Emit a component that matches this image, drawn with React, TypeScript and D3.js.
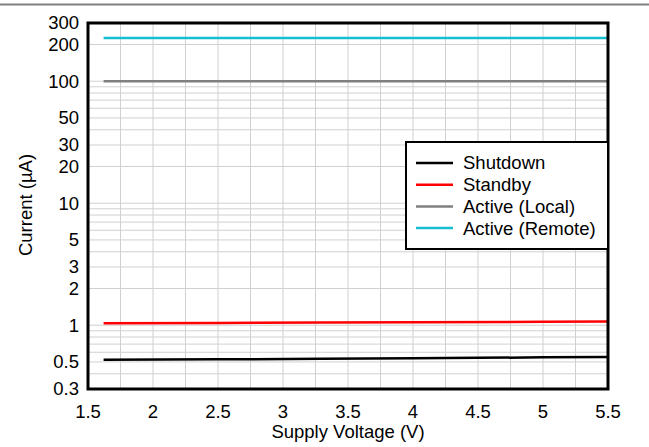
import React from "react";
import * as d3 from "d3";

const voltages = [1.62, 2.5, 3.3, 4, 5, 5.5];
const shutdown = [0.52, 0.525, 0.53, 0.535, 0.545, 0.55];
const standby = [1.04, 1.045, 1.05, 1.055, 1.065, 1.07];
const activeLocal = [100, 100, 100, 100, 100, 100];
const activeRemote = [226, 226, 226, 226, 226, 226];
const seriesNames = ["Shutdown", "Standby", "Active (Local)", "Active (Remote)"];
const seriesColors = ["#000000", "#ff0000", "#808080", "#17becf"];
const xTicks = [1.5, 2, 2.5, 3, 3.5, 4, 4.5, 5, 5.5];
const yTicks = [0.3, 0.5, 1, 2, 3, 5, 10, 20, 30, 50, 100, 200, 300];

export default function App() {
  const W = 649, H = 447;
  const L = 88, R = 608, T = 23, B = 389;
  const x = d3.scaleLinear().domain([1.5, 5.5]).range([L, R]);
  const y = d3.scaleLog().domain([0.3, 300]).range([B, T]);
  const vGrid = d3.range(1.75, 5.5, 0.25);
  const hGrid: number[] = [];
  [0.1, 1, 10, 100].forEach((d) => {
    for (let k = 1; k <= 9; k++) {
      const v = d * k;
      if (v > 0.3 + 1e-9 && v < 300 - 1e-9) hGrid.push(v);
    }
  });
  const data = [shutdown, standby, activeLocal, activeRemote];
  const line = d3
    .line<[number, number]>()
    .x((d) => x(d[0]))
    .y((d) => y(d[1]));
  const font = "Arial, 'Liberation Sans', sans-serif";
  const fs = 18.5;
  const lg = { x: 406, y: 142, w: 202, h: 107 };
  return (
    <svg width={W} height={H} style={{ position: "absolute", left: 0, top: 0 }} fontFamily={font}>
      <rect x={0} y={0} width={W} height={H} fill="#fff" />
      <line x1={0} x2={W} y1={4.5} y2={4.5} stroke="#808080" strokeWidth={2} />
      {vGrid.map((v) => (
        <line key={"v" + v} x1={x(v)} x2={x(v)} y1={T} y2={B} stroke="#d0d0d0" strokeWidth={1} />
      ))}
      {hGrid.map((v) => (
        <line key={"h" + v} x1={L} x2={R} y1={y(v)} y2={y(v)} stroke="#d0d0d0" strokeWidth={1} />
      ))}
      {data.map((s, i) => (
        <path
          key={i}
          d={line(voltages.map((v, j) => [v, s[j]]) as [number, number][]) || ""}
          fill="none"
          stroke={seriesColors[i]}
          strokeWidth={2.5}
        />
      ))}
      <rect x={L} y={T} width={R - L} height={B - T} fill="none" stroke="#000" strokeWidth={3} />
      {yTicks.map((t) => (
        <text key={"yt" + t} x={L - 9} y={y(t)} dy="0.35em" textAnchor="end" fontSize={fs} fill="#000">
          {t}
        </text>
      ))}
      {xTicks.map((t) => (
        <text key={"xt" + t} x={x(t)} y={418} textAnchor="middle" fontSize={fs} fill="#000">
          {t}
        </text>
      ))}
      <text x={(L + R) / 2} y={438} textAnchor="middle" fontSize={fs} fill="#000">
        Supply Voltage (V)
      </text>
      <text
        transform={`translate(32, 205) rotate(-90)`}
        textAnchor="middle"
        fontSize={fs}
        fill="#000"
      >
        Current (µA)
      </text>
      <rect x={lg.x} y={lg.y} width={lg.w} height={lg.h} fill="#fff" stroke="#000" strokeWidth={2} />
      {seriesNames.map((n, i) => (
        <g key={n}>
          <line x1={416} x2={453} y1={163 + i * 21.7} y2={163 + i * 21.7} stroke={seriesColors[i]} strokeWidth={2.5} />
          <text x={463} y={163 + i * 21.7} dy="0.35em" fontSize={fs} fill="#000">
            {n}
          </text>
        </g>
      ))}
    </svg>
  );
}
